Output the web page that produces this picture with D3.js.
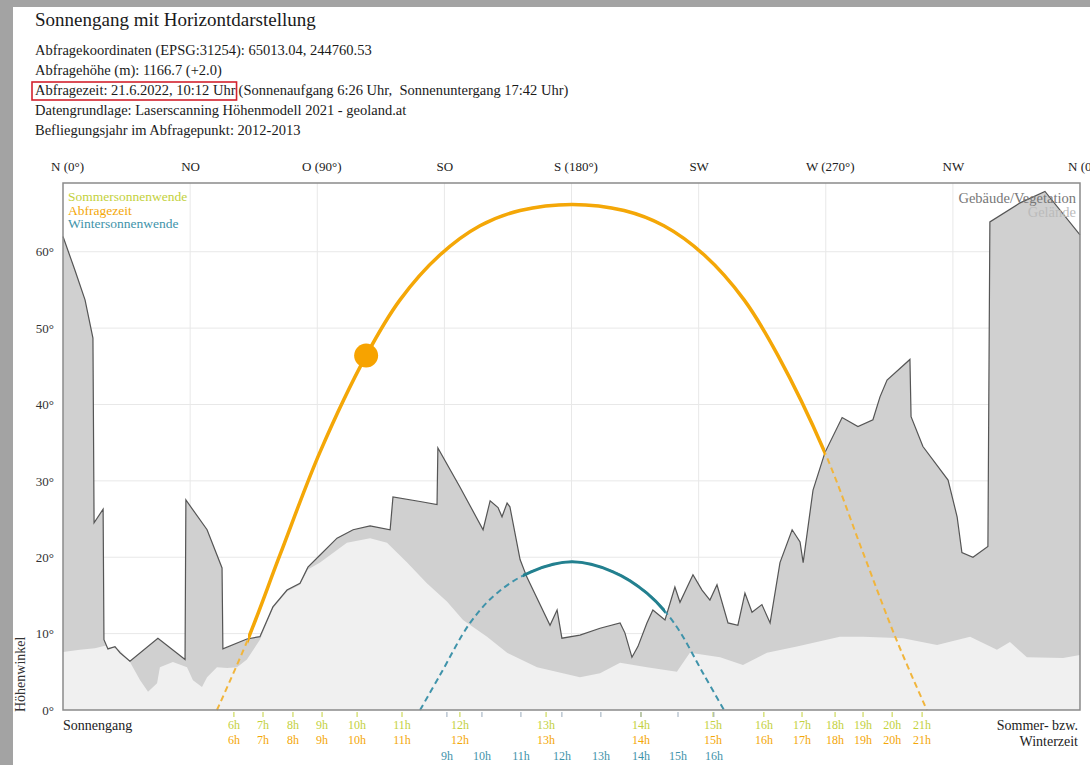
<!DOCTYPE html>
<html>
<head>
<meta charset="utf-8">
<script src="https://cdn.jsdelivr.net/npm/d3@7"></script>
<style>
  body { margin: 0; background: #a3a3a3; }
  svg { display: block; font-family: "Liberation Serif", "DejaVu Serif", serif; }
  text { white-space: pre; }
</style>
</head>
<body>
<svg id="chart"></svg>
<script>
// header text
var title = "Sonnengang mit Horizontdarstellung";
var infoLines = [
  "Abfragekoordinaten (EPSG:31254): 65013.04, 244760.53",
  "Abfragehöhe (m): 1166.7 (+2.0)",
  "Abfragezeit: 21.6.2022, 10:12 Uhr",
  "Datengrundlage: Laserscanning Höhenmodell 2021 - geoland.at",
  "Befliegungsjahr im Abfragepunkt: 2012-2013"
];
var sunTimes = "(Sonnenaufgang 6:26 Uhr,  Sonnenuntergang 17:42 Uhr)";

// axes
var dirAz = [0, 45, 90, 135, 180, 225, 270, 315, 360];
var dirLabels = ["N (0°)", "NO", "O (90°)", "SO", "S (180°)", "SW", "W (270°)", "NW", "N (0°)"];
var altTicks = [0, 10, 20, 30, 40, 50, 60];

// horizon: buildings/vegetation (azimuth, altitude)
var vegAz  = [0, 4.2, 7.8, 10.6, 11.0, 14.2, 14.5, 15.9, 18.4, 20.2, 23.7, 33.6, 43.2, 43.5, 51.0, 56.3, 56.6, 65.1, 69.7, 74.3, 79.3, 83.9, 86.7, 91.0, 97.0, 102.7, 108.7, 115.8, 116.8, 126.4, 132.4, 132.7, 140.5, 148.7, 151.2, 154.0, 155.4, 157.2, 158.2, 161.8, 164.2, 172.4, 174.9, 176.6, 183.0, 190.1, 197.2, 198.9, 201.4, 203.5, 206.7, 208.8, 213.1, 216.6, 218.4, 223.0, 226.2, 229.0, 231.5, 235.4, 238.9, 241.4, 243.9, 247.4, 250.3, 253.8, 258.1, 260.9, 262.0, 265.5, 269.7, 275.8, 281.4, 286.7, 289.2, 291.7, 299.8, 300.2, 304.4, 313.3, 316.5, 318.2, 322.1, 327.4, 328.1, 338.8, 347.6, 360];
var vegAlt = [62.0, 57.6, 53.7, 48.7, 24.5, 26.3, 9.2, 8.0, 8.3, 7.5, 6.4, 9.4, 6.6, 27.5, 23.6, 18.6, 8.0, 9.3, 9.6, 13.5, 15.7, 16.6, 18.7, 20.3, 22.5, 23.6, 24.1, 23.6, 27.9, 27.3, 26.9, 34.3, 29.2, 23.6, 27.4, 26.5, 25.3, 27.1, 26.6, 19.7, 17.4, 11.1, 13.1, 9.4, 9.8, 10.7, 11.4, 10.1, 6.9, 8.3, 11.4, 13.1, 11.8, 16.1, 14.1, 17.7, 15.7, 14.4, 16.4, 11.4, 11.1, 15.3, 12.8, 13.8, 11.4, 19.3, 23.6, 22.0, 19.3, 28.8, 33.7, 38.3, 37.1, 38.0, 41.0, 43.2, 45.9, 38.4, 34.5, 30.1, 25.3, 20.6, 20.0, 21.4, 63.9, 66.4, 67.9, 62.2];

// horizon: terrain only
var terrAz  = [0, 6.0, 11.3, 14.9, 20.2, 23.7, 27.3, 30.1, 33.3, 34.3, 38.9, 43.9, 46.0, 49.2, 51.0, 54.5, 58.1, 61.6, 65.1, 69.7, 74.3, 79.3, 83.9, 86.7, 91.0, 100.5, 108.7, 114.7, 121.8, 128.8, 135.9, 141.6, 150.1, 157.2, 167.8, 183.0, 190.1, 197.2, 206.7, 217.3, 221.9, 232.6, 240.7, 249.2, 259.8, 275.0, 283.2, 297.3, 309.4, 321.1, 330.6, 335.2, 341.2, 354.0, 360];
var terrAlt = [7.6, 7.9, 8.1, 8.4, 7.9, 6.3, 3.9, 2.4, 3.5, 5.6, 6.3, 5.6, 3.9, 3.0, 4.3, 5.6, 5.5, 5.6, 6.6, 9.2, 13.3, 15.5, 16.4, 18.4, 19.3, 21.9, 22.5, 21.9, 19.3, 16.6, 14.2, 11.8, 9.6, 7.5, 5.6, 4.3, 4.8, 6.2, 5.6, 5.0, 7.5, 6.9, 5.9, 7.5, 8.3, 9.6, 9.6, 9.4, 8.5, 9.6, 7.9, 8.9, 6.9, 6.8, 7.2];

// sun paths
var summerAz  = [54.5, 65.5, 76.8, 91.0, 107.3, 119.3, 133.5, 147.6, 161.8, 180.2, 198.6, 212.7, 226.9, 241.1, 253.1, 269.7, 283.5, 294.9, 305.8];
var summerAlt = [0, 9.3, 20.3, 33.8, 46.4, 53.7, 59.6, 63.4, 65.4, 66.2, 65.4, 63.4, 59.6, 53.7, 46.4, 33.7, 20.3, 9.3, 0];
var summerVisible = [65.5, 269.7];
var winterAz  = [126.4, 133.5, 144.1, 153.6, 165.7, 180.2, 194.7, 206.7, 216.3, 226.9, 234.0];
var winterAlt = [0, 4.6, 11.4, 15.3, 18.1, 19.4, 18.1, 15.3, 11.4, 4.6, 0];
var winterVisible = [162.8, 213.1];
var sunNow = [107.3, 46.4];

// hour marks
var summerHours = ["6h", "7h", "8h", "9h", "10h", "11h", "12h", "13h", "14h", "15h", "16h", "17h", "18h", "19h", "20h", "21h"];
var summerHourAz = [60.5, 70.8, 81.4, 91.7, 104.1, 120.0, 140.5, 171.0, 204.6, 230.1, 248.1, 261.6, 273.3, 283.2, 293.5, 304.1];
var winterHours = ["9h", "10h", "11h", "12h", "13h", "14h", "15h", "16h"];
var winterHourAz = [135.9, 148.3, 162.1, 176.6, 190.4, 204.6, 217.7, 230.4];

var colGreen = "#c3d13c", colOrange = "#f4a707", colTeal = "#23808f", colTealLight = "#3f93aa";

var W = 1090, H = 765;
var pL = 63, pR = 1080, pT = 183, pB = 710;

var svg = d3.select("#chart").attr("width", W).attr("height", H);

svg.append("rect").attr("x", 13).attr("y", 7).attr("width", W - 13).attr("height", H - 7).attr("fill", "#fff");

// header
svg.append("text").attr("x", 35).attr("y", 26).attr("font-size", 19).attr("fill", "#1a1a1a").text(title);
var infoText = infoLines.map(function(t, i) {
  return svg.append("text").attr("x", 35).attr("y", 55 + i * 20).attr("font-size", 14.5).attr("fill", "#1a1a1a").text(t);
});
var boxW = infoText[2].node().getComputedTextLength();
svg.append("text").attr("x", 35 + boxW + 3).attr("y", 95).attr("font-size", 14.5).attr("fill", "#1a1a1a").text(sunTimes);
svg.append("rect").attr("x", 32).attr("y", 82).attr("width", boxW + 4).attr("height", 18)
  .attr("fill", "none").attr("stroke", "#d3222e").attr("stroke-width", 1.6);

var x = d3.scaleLinear().domain([0, 360]).range([pL, pR]);
var y = d3.scaleLinear().domain([0, 69]).range([pB, pT]);

// grid
var g = svg.append("g");
g.selectAll(".hg").data(altTicks.slice(1)).enter().append("line")
  .attr("x1", pL).attr("x2", pR)
  .attr("y1", function(d) { return y(d); }).attr("y2", function(d) { return y(d); })
  .attr("stroke", "#e8e8e8");
g.selectAll(".vg").data(dirAz.slice(1, -1)).enter().append("line")
  .attr("y1", pT).attr("y2", pB)
  .attr("x1", function(d) { return x(d); }).attr("x2", function(d) { return x(d); })
  .attr("stroke", "#e8e8e8");

// horizon areas
var veg = d3.range(vegAz.length).map(function(i) { return [vegAz[i], vegAlt[i]]; });
var terr = d3.range(terrAz.length).map(function(i) { return [terrAz[i], terrAlt[i]]; });

var area = d3.area()
  .x(function(d) { return x(d[0]); })
  .y0(y(0))
  .y1(function(d) { return y(d[1]); });
var line = d3.line()
  .x(function(d) { return x(d[0]); })
  .y(function(d) { return y(d[1]); });

g.append("path").datum(veg).attr("d", area).attr("fill", "#d0d0d0");
g.append("path").datum(terr).attr("d", area).attr("fill", "#f0f0f0");
g.append("path").datum(veg).attr("d", line).attr("fill", "none").attr("stroke", "#555").attr("stroke-width", 1.2);

// legends inside plot
var legend = [["Sommersonnenwende", colGreen], ["Abfragezeit", colOrange], ["Wintersonnenwende", colTealLight]];
legend.forEach(function(l, i) {
  g.append("text").attr("x", pL + 5).attr("y", pT + 18 + i * 13.5).attr("font-size", 13.5).attr("fill", l[1]).text(l[0]);
});
g.append("text").attr("x", pR - 4).attr("y", pT + 20).attr("text-anchor", "end").attr("font-size", 14.5).attr("fill", "#777").text("Gebäude/Vegetation");
g.append("text").attr("x", pR - 4).attr("y", pT + 34).attr("text-anchor", "end").attr("font-size", 14.5).attr("fill", "#bbb").text("Gelände");

// sun paths
var sunLine = d3.line()
  .x(function(d) { return x(d[0]); })
  .y(function(d) { return y(d[1]); })
  .curve(d3.curveCatmullRom);

function sunPath(az, alt, vis, colSolid, colDash, wSolid, id) {
  var pts = d3.range(az.length).map(function(i) { return [az[i], alt[i]]; });
  svg.append("clipPath").attr("id", id).append("rect")
    .attr("x", x(vis[0])).attr("width", x(vis[1]) - x(vis[0]))
    .attr("y", 0).attr("height", H);
  g.append("path").datum(pts).attr("d", sunLine).attr("fill", "none")
    .attr("stroke", colDash).attr("stroke-width", 2).attr("stroke-dasharray", "6,4");
  g.append("path").datum(pts).attr("d", sunLine).attr("fill", "none")
    .attr("clip-path", "url(#" + id + ")")
    .attr("stroke", colSolid).attr("stroke-width", wSolid);
}
sunPath(winterAz, winterAlt, winterVisible, colTeal, colTealLight, 3, "clipW");
sunPath(summerAz, summerAlt, summerVisible, colOrange, "#f1b53c", 3.5, "clipS");

g.append("circle").attr("cx", x(sunNow[0])).attr("cy", y(sunNow[1])).attr("r", 12).attr("fill", "#f7a300");

// frame
g.append("rect").attr("x", pL).attr("y", pT).attr("width", pR - pL).attr("height", pB - pT)
  .attr("fill", "none").attr("stroke", "#8a8a8a").attr("stroke-width", 1.5);

// top direction axis
var topAxis = svg.append("g").attr("transform", "translate(0," + (pT - 9) + ")")
  .call(d3.axisTop(x).tickValues(dirAz).tickSize(0).tickFormat(function(d, i) { return dirLabels[i]; }));
topAxis.select(".domain").remove();
topAxis.selectAll("text").attr("font-family", "Liberation Serif, serif").attr("font-size", 13).attr("fill", "#222")
  .attr("dx", function(d, i) { return dirLabels[i].indexOf("(") > 0 ? 4 : 0; });

// left altitude axis
var leftAxis = svg.append("g").attr("transform", "translate(" + (pL - 6) + ",0)")
  .call(d3.axisLeft(y).tickValues(altTicks).tickSize(0).tickFormat(function(d) { return d + "°"; }));
leftAxis.select(".domain").remove();
leftAxis.selectAll("text").attr("font-family", "Liberation Serif, serif").attr("font-size", 13).attr("fill", "#333");

svg.append("text").attr("transform", "translate(25," + (pB + 2) + ") rotate(-90)")
  .attr("font-size", 14).attr("fill", "#333").text("Höhenwinkel");

// hour marks along the bottom
function hourRow(labels, az, col, base) {
  svg.append("g").selectAll("text").data(az).enter().append("text")
    .attr("x", function(d) { return x(d); }).attr("y", base)
    .attr("text-anchor", "middle").attr("font-size", 12).attr("fill", col)
    .text(function(d, i) { return labels[i]; });
}
svg.append("g").selectAll("line").data(summerHourAz).enter().append("line")
  .attr("x1", function(d) { return x(d); }).attr("x2", function(d) { return x(d); })
  .attr("y1", pB + 2).attr("y2", pB + 7).attr("stroke", colGreen);
svg.append("g").selectAll("line").data(winterHourAz).enter().append("line")
  .attr("x1", function(d) { return x(d); }).attr("x2", function(d) { return x(d); })
  .attr("y1", pB + 2).attr("y2", pB + 7).attr("stroke", "#9ab");
hourRow(summerHours, summerHourAz, colGreen, 729);
hourRow(summerHours, summerHourAz, colOrange, 744);
hourRow(winterHours, winterHourAz, colTealLight, 760);

svg.append("text").attr("x", pL).attr("y", 730).attr("font-size", 14).attr("fill", "#222").text("Sonnengang");
svg.append("text").attr("x", pR - 2).attr("y", 730).attr("text-anchor", "end").attr("font-size", 14).attr("fill", "#222").text("Sommer- bzw.");
svg.append("text").attr("x", pR - 2).attr("y", 746).attr("text-anchor", "end").attr("font-size", 14).attr("fill", "#222").text("Winterzeit");
</script>
</body>
</html>
